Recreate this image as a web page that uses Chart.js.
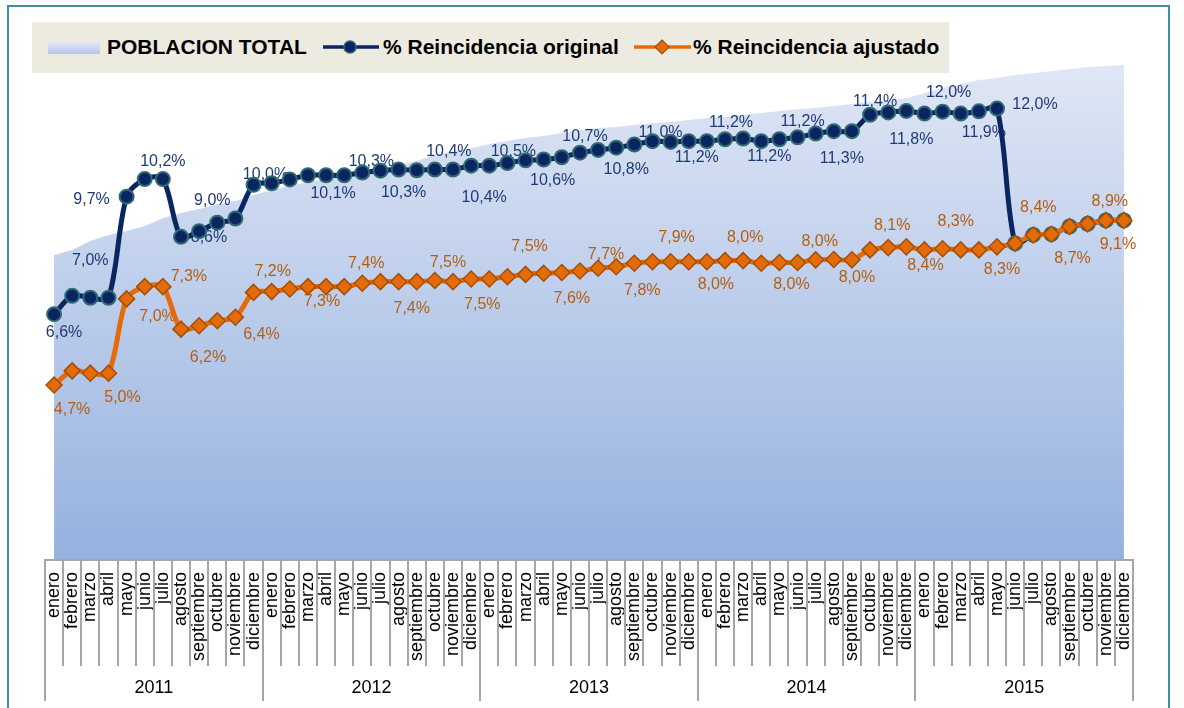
<!DOCTYPE html>
<html lang="es">
<head>
<meta charset="utf-8">
<title>Reincidencia</title>
<script src="https://cdn.jsdelivr.net/npm/chart.js@4.4.1/dist/chart.umd.min.js"></script>
<style>
  html, body { margin: 0; padding: 0; background: #fff; overflow: hidden; }
  #wrap { position: relative; width: 1184px; height: 708px; }
  #frame { position: absolute; left: 7px; top: 5px; width: 1159px; height: 760px; border: 2px solid #3f8fa6; }
  #chartBox { position: absolute; left: 0; top: 0; width: 1184px; height: 708px; }
  #legend { position: absolute; left: 32px; top: 22px; width: 917px; height: 51px; background: #edebe0;
            font: bold 21px "Liberation Sans", Arial, sans-serif; color: #000; }
  #legend span { position: absolute; top: 14px; line-height: 21px; white-space: nowrap; }
  #legend svg, #legend .sw { position: absolute; }
  #legend .sw { left: 16px; top: 20px; width: 52px; height: 12px;
                background: linear-gradient(#e2e8f5, #b3c6ea); }
</style>
</head>
<body>
<div id="wrap">
  <div id="frame"></div>
  <div id="chartBox"><canvas id="grafico"></canvas></div>
  <div id="legend">
    <div class="sw"></div>
    <span style="left:75px">POBLACION TOTAL</span>
    <svg style="left:291px;top:0" width="56" height="51">
      <line x1="0" y1="25" x2="56" y2="25" stroke="#0b2462" stroke-width="3.5"/>
      <circle cx="27" cy="25" r="6" fill="#0b2462" stroke="#2e6b70" stroke-width="1.5"/>
    </svg>
    <span style="left:351px">% Reincidencia original</span>
    <svg style="left:602px;top:0" width="57" height="51">
      <line x1="0" y1="25" x2="57" y2="25" stroke="#e36c09" stroke-width="3.5"/>
      <polygon points="28,18 35,25 28,32 21,25" fill="#e36c09" stroke="#a34e08" stroke-width="1.2"/>
    </svg>
    <span style="left:661px">% Reincidencia ajustado</span>
  </div>
</div>
<script>
(function () {
  'use strict';

  var MESES = ['enero', 'febrero', 'marzo', 'abril', 'mayo', 'junio', 'julio', 'agosto',
               'septiembre', 'octubre', 'noviembre', 'diciembre'];
  var ANIOS = ['2011', '2012', '2013', '2014', '2015'];

  // población total (eje secundario, oculto)
  var POBLACION = [102400, 104100, 107100, 109100, 110500, 112200, 114800, 116500, 117900, 119500, 120600, 122600,
                   124200, 125600, 126900, 127900, 129300, 130600, 131600, 132600, 134000, 136000, 137300, 138300,
                   139700, 140700, 141700, 142400, 143400, 144400, 145100, 145400, 146100, 146700, 147100, 147800,
                   148400, 148800, 149400, 150100, 150800, 151400, 151800, 152500, 153100, 153800, 154500, 155100,
                   156800, 158500, 159800, 161200, 161900, 162900, 163500, 164200, 164900, 165500, 165900, 166200];

  var ORIGINAL = [6.62, 7.10, 7.05, 7.05, 9.69, 10.15, 10.15, 8.64, 8.79, 9.01, 9.12, 10.00,
                  10.04, 10.14, 10.25, 10.25, 10.25, 10.32, 10.37, 10.40, 10.38, 10.40, 10.40, 10.50,
                  10.50, 10.57, 10.64, 10.66, 10.72, 10.84, 10.91, 10.97, 11.05, 11.14, 11.12, 11.14,
                  11.14, 11.19, 11.21, 11.14, 11.19, 11.24, 11.34, 11.40, 11.40, 11.83, 11.89, 11.93,
                  11.86, 11.91, 11.86, 11.92, 11.99, 8.47, 8.69, 8.71, 8.91, 8.98, 9.07, 9.07];

  var AJUSTADO = [4.77, 5.14, 5.08, 5.08, 7.02, 7.34, 7.34, 6.23, 6.32, 6.45, 6.54, 7.19,
                  7.21, 7.28, 7.34, 7.34, 7.34, 7.43, 7.47, 7.47, 7.47, 7.50, 7.47, 7.54,
                  7.54, 7.60, 7.66, 7.69, 7.71, 7.75, 7.82, 7.86, 7.95, 7.99, 7.99, 7.99,
                  7.99, 8.02, 8.02, 7.95, 7.97, 7.97, 8.04, 8.05, 8.04, 8.30, 8.36, 8.38,
                  8.30, 8.33, 8.30, 8.30, 8.38, 8.47, 8.69, 8.71, 8.91, 8.98, 9.07, 9.07];

  // etiquetas de datos tal como aparecen en el gráfico
  var ORIG_ETQ_IDX = [0, 2, 4, 6, 7, 9, 11, 15, 17, 19, 21, 23, 25, 27, 29, 31, 33, 35, 37, 39, 41, 43, 45, 47, 49, 51, 52];
  var ORIG_ETQ_VAL = [6.6, 7.0, 9.7, 10.2, 8.6, 9.0, 10.0, 10.1, 10.3, 10.3, 10.4, 10.4, 10.5, 10.6, 10.7, 10.8,
                      11.0, 11.2, 11.2, 11.2, 11.2, 11.3, 11.4, 11.8, 12.0, 11.9, 12.0];
  var AJ_ETQ_IDX = [0, 3, 4, 6, 7, 10, 12, 14, 17, 20, 22, 24, 26, 28, 30, 32, 34, 36, 38, 40, 42, 44, 46, 48, 50, 52, 54, 56, 58, 59];
  var AJ_ETQ_VAL = [4.7, 5.0, 7.0, 7.3, 6.2, 6.4, 7.2, 7.3, 7.4, 7.4, 7.5, 7.5, 7.5, 7.6, 7.7, 7.8, 7.9, 8.0,
                    8.0, 8.0, 8.0, 8.0, 8.1, 8.4, 8.3, 8.3, 8.4, 8.7, 8.9, 9.1];

  // desplazamiento de cada etiqueta respecto a su punto (px)
  var ORIG_ETQ_POS = [[10, 18], [0, -37], [-35, 3], [0, -17], [28, 1], [-5, -22], [12, -10], [7, 18], [9, -11],
                      [5, 23], [14, -18], [13, 32], [6, -11], [9, 21], [5, -16], [10, 22], [8, -9], [8, 16],
                      [6, -17], [8, 15], [5, -16], [8, 27], [5, -13], [5, 29], [6, -19], [5, 21], [38, -4]];
  var AJ_ETQ_POS = [[18, 25], [14, 24], [31, 18], [26, -10], [27, 28], [26, 17], [1, -20], [14, 15], [4, -20],
                    [-5, 27], [-5, -19], [-7, 26], [4, -28], [10, 26], [8, -14], [8, 27], [6, -24], [9, 23],
                    [2, -23], [12, 22], [4, -18], [5, 18], [4, -22], [1, 16], [-5, -28], [5, 23], [5, -27],
                    [3, 32], [4, -19], [-6, 24]];

  var FUENTE = '"Liberation Sans", Arial, sans-serif';

  var categorias = [];
  ANIOS.forEach(function () {
    MESES.forEach(function (m) { categorias.push(m); });
  });

  function fmt(v) {
    return v.toFixed(1).replace('.', ',') + '%';
  }

  function dibujarEtiquetas(chart, dsIndex, idxs, vals, pos, color) {
    var ctx = chart.ctx;
    var meta = chart.getDatasetMeta(dsIndex);
    ctx.fillStyle = color;
    idxs.forEach(function (i, k) {
      var p = meta.data[i];
      if (!p) return;
      ctx.fillText(fmt(vals[k]), p.x + pos[k][0], p.y + pos[k][1]);
    });
  }

  // etiquetas debajo de las líneas, encima del área
  var pluginEtiquetas = {
    id: 'etiquetas',
    afterDatasetDraw: function (chart, args) {
      if (args.index !== 0) return;
      var ctx = chart.ctx;
      ctx.save();
      ctx.font = '16px ' + FUENTE;
      ctx.textAlign = 'center';
      ctx.textBaseline = 'middle';
      dibujarEtiquetas(chart, 1, ORIG_ETQ_IDX, ORIG_ETQ_VAL, ORIG_ETQ_POS, '#1f3b77');
      dibujarEtiquetas(chart, 2, AJ_ETQ_IDX, AJ_ETQ_VAL, AJ_ETQ_POS, '#b55e12');
      ctx.restore();
    }
  };

  // divisiones de meses y años bajo el eje
  var pluginEje = {
    id: 'ejeFechas',
    afterDraw: function (chart) {
      var xs = chart.scales.x;
      var ctx = chart.ctx;
      var paso = xs.getPixelForValue(1) - xs.getPixelForValue(0);
      var x0 = xs.getPixelForValue(0) - paso / 2;
      var top = chart.chartArea.bottom;
      ctx.save();
      ctx.strokeStyle = '#a6a6a6';
      ctx.lineWidth = 2;
      ctx.beginPath();
      ctx.moveTo(x0 - 1, top);
      ctx.lineTo(x0 + paso * categorias.length + 1, top);
      for (var i = 0; i <= categorias.length; i++) {
        var x = Math.round(x0 + i * paso);
        ctx.moveTo(x, top);
        ctx.lineTo(x, top + (i % 12 === 0 ? 141 : 106));
      }
      ctx.stroke();
      ctx.fillStyle = '#000';
      ctx.font = '18px ' + FUENTE;
      ctx.textAlign = 'center';
      ctx.textBaseline = 'middle';
      ANIOS.forEach(function (a, k) {
        ctx.fillText(a, x0 + (k * 12 + 6) * paso, top + 128);
      });
      ctx.restore();
    }
  };

  var ctx = document.getElementById('grafico').getContext('2d');
  new Chart(ctx, {
    type: 'line',
    data: {
      labels: categorias,
      datasets: [{
        label: 'POBLACION TOTAL',
        data: POBLACION,
        yAxisID: 'y1',
        order: 3,
        fill: 'origin',
        tension: 0,
        borderWidth: 0,
        pointRadius: 0,
        backgroundColor: function (c) {
          var ca = c.chart.chartArea;
          if (!ca) return '#c5d3ee';
          var g = c.chart.ctx.createLinearGradient(0, ca.top, 0, ca.bottom);
          g.addColorStop(0, '#e6ebf7');
          g.addColorStop(1, '#95b1df');
          return g;
        }
      }, {
        label: '% Reincidencia original',
        data: ORIGINAL,
        yAxisID: 'y',
        order: 2,
        borderColor: '#0b2462',
        borderWidth: 5,
        tension: 0.3,
        pointStyle: 'circle',
        pointRadius: 7,
        pointBackgroundColor: '#0b2462',
        pointBorderColor: '#2e6b70',
        pointBorderWidth: 2
      }, {
        label: '% Reincidencia ajustado',
        data: AJUSTADO,
        yAxisID: 'y',
        order: 1,
        borderColor: '#e36c09',
        borderWidth: 5,
        tension: 0.3,
        pointStyle: 'rectRot',
        pointRadius: 8,
        pointBackgroundColor: '#e36c09',
        pointBorderColor: '#a34e08',
        pointBorderWidth: 1.5
      }]
    },
    options: {
      responsive: true,
      maintainAspectRatio: false,
      animation: false,
      layout: { padding: { left: 45, right: 51, top: 24, bottom: 40 } },
      plugins: { legend: { display: false }, tooltip: { enabled: false } },
      scales: {
        x: {
          offset: true,
          grid: { display: false, drawTicks: false },
          border: { display: false },
          ticks: {
            autoSkip: false,
            minRotation: 90,
            maxRotation: 90,
            padding: 12,
            color: '#000',
            font: { family: FUENTE, size: 18 }
          },
          afterFit: function (scale) { scale.height = 108; }
        },
        y: { display: false, min: 0.2, max: 14.2 },
        y1: { display: false, min: 0, max: 180000 }
      }
    },
    plugins: [pluginEtiquetas, pluginEje]
  });
})();
</script>
</body>
</html>
